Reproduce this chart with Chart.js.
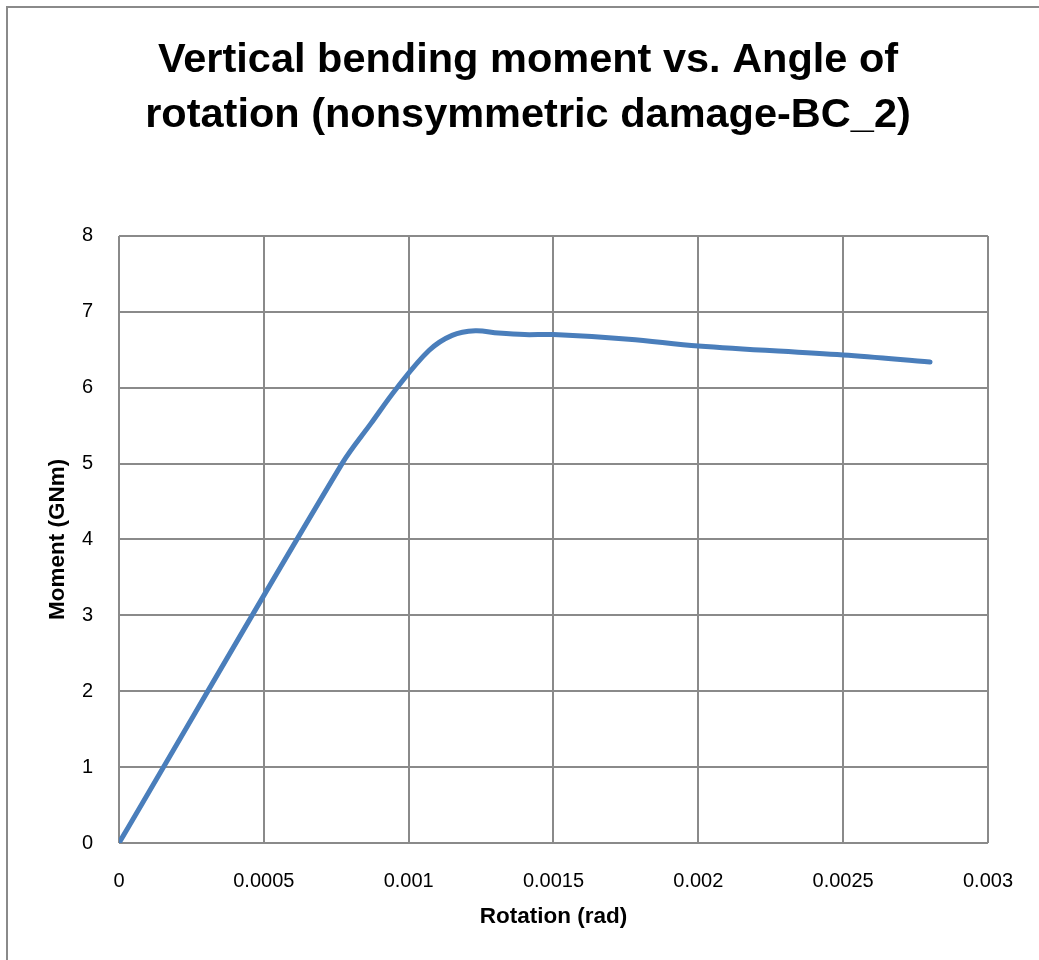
<!DOCTYPE html>
<html>
<head>
<meta charset="utf-8">
<script src="https://cdn.jsdelivr.net/npm/chart.js@4/dist/chart.umd.min.js"></script>
<style>
  html, body { margin: 0; padding: 0; background: #fff; }
  #wrap { position: relative; width: 1039px; height: 960px; overflow: hidden; }
  #frame {
    position: absolute; left: 6px; top: 6px; width: 1200px; height: 1200px;
    border-left: 2px solid #8a8a8a; border-top: 2px solid #8a8a8a;
    box-sizing: border-box;
  }
  canvas { position: absolute; left: 0; top: 0; }
</style>
</head>
<body>
<div id="wrap">
  <div id="frame"></div>
  <canvas id="chart" width="1039" height="960"></canvas>
</div>
<script>
// values
const rotation = [0, 0.00077, 0.00087, 0.00096, 0.00107, 0.00115, 0.00123, 0.00131, 0.00140, 0.00150, 0.00176, 0.00200, 0.00250, 0.00280];
const moment   = [0, 5.00, 5.53, 6.00, 6.49, 6.69, 6.75, 6.72, 6.70, 6.70, 6.64, 6.55, 6.43, 6.34];

const xTickLabels = ['0', '0.0005', '0.001', '0.0015', '0.002', '0.0025', '0.003'];
const yTickLabels = ['0', '1', '2', '3', '4', '5', '6', '7', '8'];

const titleLines = ['Vertical bending moment vs. Angle of', 'rotation (nonsymmetric damage-BC_2)'];

const fontFamily = '"Liberation Sans", Arial, sans-serif';
const gridColor = '#8a8a8a';

const points = rotation.map((r, i) => ({ x: r, y: moment[i] }));

// the title is centred on the whole frame, not on the padded box
const shiftTitle = {
    id: 'shiftTitle',
    afterLayout(chart) {
        const t = chart.titleBlock;
        if (t) { t.left = 17; t.right = 1039; }
    }
};

new Chart(document.getElementById('chart').getContext('2d'), {
    type: 'scatter',
    data: {
        datasets: [{
            label: 'Moment',
            data: points,
            showLine: true,
            borderColor: '#4a7ebb',
            borderWidth: 5,
            borderCapStyle: 'round',
            pointRadius: 0,
            tension: 0.35,
            fill: false
        }]
    },
    plugins: [shiftTitle],
    options: {
        responsive: false,
        animation: false,
        layout: { padding: { left: 0, right: 50, top: 0, bottom: 0 } },
        plugins: {
            legend: { display: false },
            tooltip: { enabled: false },
            title: {
                display: true,
                text: titleLines,
                color: '#000',
                font: { family: fontFamily, size: 41.5, weight: 'bold', lineHeight: 1.325 },
                padding: { top: 33.5, bottom: 92.5 }
            }
        },
        scales: {
            x: {
                type: 'linear',
                min: 0,
                max: 0.003,
                afterBuildTicks: axis => {
                    axis.ticks = xTickLabels.map(t => ({ value: parseFloat(t) }));
                },
                afterFit: axis => { axis.height = 117; },
                ticks: {
                    color: '#000',
                    font: { family: fontFamily, size: 20 },
                    padding: 26,
                    maxRotation: 0,
                    callback: (v, i) => xTickLabels[i]
                },
                grid: { color: gridColor, lineWidth: 2, drawTicks: false },
                border: { display: false },
                title: {
                    display: true,
                    text: 'Rotation (rad)',
                    color: '#000',
                    font: { family: fontFamily, size: 22.5, weight: 'bold', lineHeight: 1.2 },
                    padding: { top: 0, bottom: 29.5 }
                }
            },
            y: {
                type: 'linear',
                min: 0,
                max: 8,
                afterBuildTicks: axis => {
                    axis.ticks = yTickLabels.map(t => ({ value: parseFloat(t) }));
                },
                afterFit: axis => { axis.width = 119; },
                ticks: {
                    color: '#000',
                    font: { family: fontFamily, size: 20 },
                    padding: 26,
                    callback: (v, i) => yTickLabels[i]
                },
                grid: { color: gridColor, lineWidth: 2, drawTicks: false },
                border: { display: false },
                title: {
                    display: true,
                    text: 'Moment (GNm)',
                    color: '#000',
                    font: { family: fontFamily, size: 22.5, weight: 'bold', lineHeight: 1.2 },
                    padding: { top: 44.5, bottom: 0 }
                }
            }
        }
    }
});
</script>
</body>
</html>
